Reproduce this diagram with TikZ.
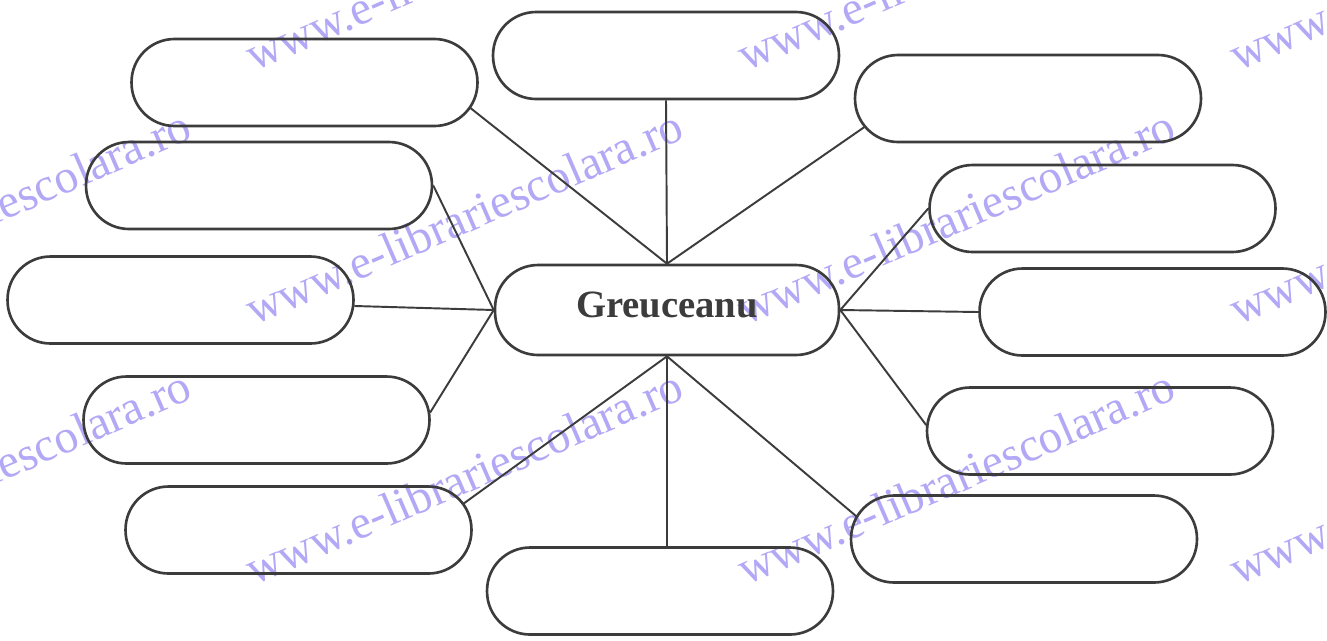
\documentclass[tikz,border=0pt]{standalone}
\usepackage{fontspec}
\setmainfont{Liberation Serif}
\usetikzlibrary{calc}
\definecolor{wm}{RGB}{178,168,246}
\definecolor{ink}{RGB}{60,60,60}
\begin{document}
\begin{tikzpicture}[x=0.02cm,y=-0.02cm,
  pill/.style={draw=ink,line width=1.5pt,inner sep=0pt,minimum width=6.92cm,minimum height=1.74cm,rounded corners=0.86cm},
  link/.style={draw=ink,line width=1.1pt},
  wmark/.style={text=wm,anchor=base west,rotate=23.5,inner sep=0pt,font=\fontsize{27}{31}\selectfont}]
\useasboundingbox (0,0) rectangle (1327,640);
\clip (0,0) rectangle (1327,640);
\fill[white] (0,0) rectangle (1327,640);
% watermark
\foreach \wx in {-238,254,746,1238}{
  \foreach \wy in {72,326,586}{
    \node[wmark] at (\wx,\wy) {www.e-librariescolara.ro};
  }
}
% nodes
\node[pill,minimum width=6.88cm,minimum height=1.8cm,text height=0.52cm,text depth=0.24cm,font=\fontsize{22}{26}\selectfont\bfseries,text=ink] (c) at (667,310) {Greuceanu};
\node[pill] (b1) at (304.5,82.5) {};
\node[pill] (b2) at (666,55.5) {};
\node[pill] (b3) at (1028,98.5) {};
\node[pill] (b4) at (259,185.5) {};
\node[pill] (b5) at (180.5,300) {};
\node[pill] (b6) at (256.5,420) {};
\node[pill] (b7) at (298.5,530) {};
\node[pill] (b8) at (660,591) {};
\node[pill] (b9) at (1102.5,208.5) {};
\node[pill] (b10) at (1152.5,312) {};
\node[pill] (b11) at (1100,431) {};
\node[pill] (b12) at (1024,539) {};
% connectors
\draw[link] ($(b1.east)+(-43.5,0)+(36:43.5)$) -- (c.north);
\draw[link] (b2.south) -- (c.north);
\draw[link] ($(b3.west)+(43.5,0)+(139:43.5)$) -- (c.north);
\draw[link] (b4.east) -- (c.west);
\draw[link] ($(b5.east)+(-43,0)+(8:43)$) -- (c.west);
\draw[link] ($(b6.east)+(-43,0)+(-10:43)$) -- (c.west);
\draw[link] (b9.west) -- (c.east);
\draw[link] (b10.west) -- (c.east);
\draw[link] ($(b11.west)+(43,0)+(188:43)$) -- (c.east);
\draw[link] ($(b7.east)+(-43,0)+(-38:43)$) -- (c.south);
\draw[link] (c.south) -- (c.south |- b8.north);
\draw[link] ($(b12.west)+(43,0)+(212:43)$) -- (c.south);
\end{tikzpicture}
\end{document}
